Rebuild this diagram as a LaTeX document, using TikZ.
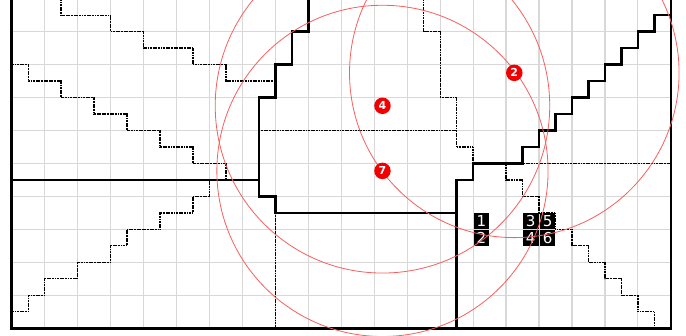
\documentclass[tikz,border=0pt]{standalone}
\usepackage{fontspec}
\setmainfont{DejaVu Sans}
\usepackage{xcolor}
\usepackage{tikz}
\usetikzlibrary{positioning}
\definecolor{gridgray}{RGB}{216,216,216}
\definecolor{rangered}{RGB}{248,95,95}
\definecolor{beaconred}{RGB}{240,0,0}
\tikzset{
  floorgrid/.style={draw=gridgray,line width=1pt},
  wall/.style={line width=2.2pt,black,line join=miter},
  lowwall/.style={line width=1.1pt,black,dash pattern=on 1pt off 0.4pt},
  rangecircle/.style={draw=rangered,line width=0.7pt},
  beacon/.style={circle,fill=beaconred,text=white,inner sep=0pt,
    minimum size=0.5cm,font=\fontsize{9.5}{9.5}\selectfont\bfseries},
  cellbox/.style={rectangle,fill=black,text=white,inner sep=0pt,
    minimum size=0.47cm,font=\fontsize{13}{13}\selectfont}
}
\begin{document}
\begin{tikzpicture}[x=0.5cm,y=0.5cm]
  \useasboundingbox (-0.71,-0.47) rectangle (40.92,19.92);
  % floor grid
  \draw[floorgrid] (0,0) grid (40,20);

  % low walls (dotted)
  \draw[lowwall] (3,20) -- (3,19) -- (6,19) -- (6,18) -- (8,18) -- (8,17)
    -- (11,17) -- (11,16) -- (13,16) -- (13,15) -- (16,15);
  \draw[lowwall] (0,16) -- (1,16) -- (1,15) -- (3,15) -- (3,14) -- (5,14)
    -- (5,13) -- (7,13) -- (7,12) -- (9,12) -- (9,11) -- (11,11)
    -- (11,10) -- (13,10) -- (13,9);
  \draw[lowwall] (0,1) -- (1,1) -- (1,2) -- (2,2) -- (2,3) -- (4,3)
    -- (4,4) -- (6,4) -- (6,5) -- (7,5) -- (7,6) -- (9,6) -- (9,7)
    -- (11,7) -- (11,8) -- (12,8) -- (12,9);
  \draw[lowwall] (15,12) -- (27,12);
  \draw[lowwall] (25,20) -- (25,18) -- (26,18) -- (26,14) -- (27,14)
    -- (27,11) -- (28,11) -- (28,10);
  \draw[lowwall] (16,7) -- (16,0);
  \draw[lowwall] (31,10) -- (40,10);
  \draw[lowwall] (30,10) \foreach \i in {31,...,39} { |- (\i,40-\i) } -- (39,0);

  % walls
  \draw[wall] (0,20) -- (0,0) -- (40,0) -- (40,20);
  \draw[wall] (0,9) -- (15,9);
  \draw[wall] (18,20) -- (18,18) -- (17,18) -- (17,16) -- (16,16) -- (16,14)
    -- (15,14) -- (15,8) -- (16,8) -- (16,7) -- (27,7);
  \draw[wall] (27,0) -- (27,9) -- (28,9) -- (28,10) -- (31,10)
    \foreach \i in {32,...,40} { |- (\i,\i-21) };

  % cell labels
  \node[cellbox] (k1) at (28.5,6.5) {1};
  \node[cellbox,below=0.03cm of k1] (k2) {2};
  \node[cellbox] (k3) at (31.5,6.5) {3};
  \node[cellbox,right=0.03cm of k3] (k5) {5};
  \node[cellbox,below=0.03cm of k3] (k4) {4};
  \node[cellbox,below=0.03cm of k5] (k6) {6};

  % range circles
  \coordinate (c4) at (22.5,13.5);
  \coordinate (c7) at (22.5,9.55);
  \coordinate (c2) at (30.5,15.5);
  \draw[rangecircle] (c4) circle[radius=10.15];
  \draw[rangecircle] (c7) circle[radius=10.05];
  \draw[rangecircle] (c2) circle[radius=10];

  % beacons
  \node[beacon] (m4) at (c4) {4};
  \node[beacon] (m7) at (c7) {7};
  \node[beacon] (m2) at (c2) {2};
\end{tikzpicture}
\end{document}
